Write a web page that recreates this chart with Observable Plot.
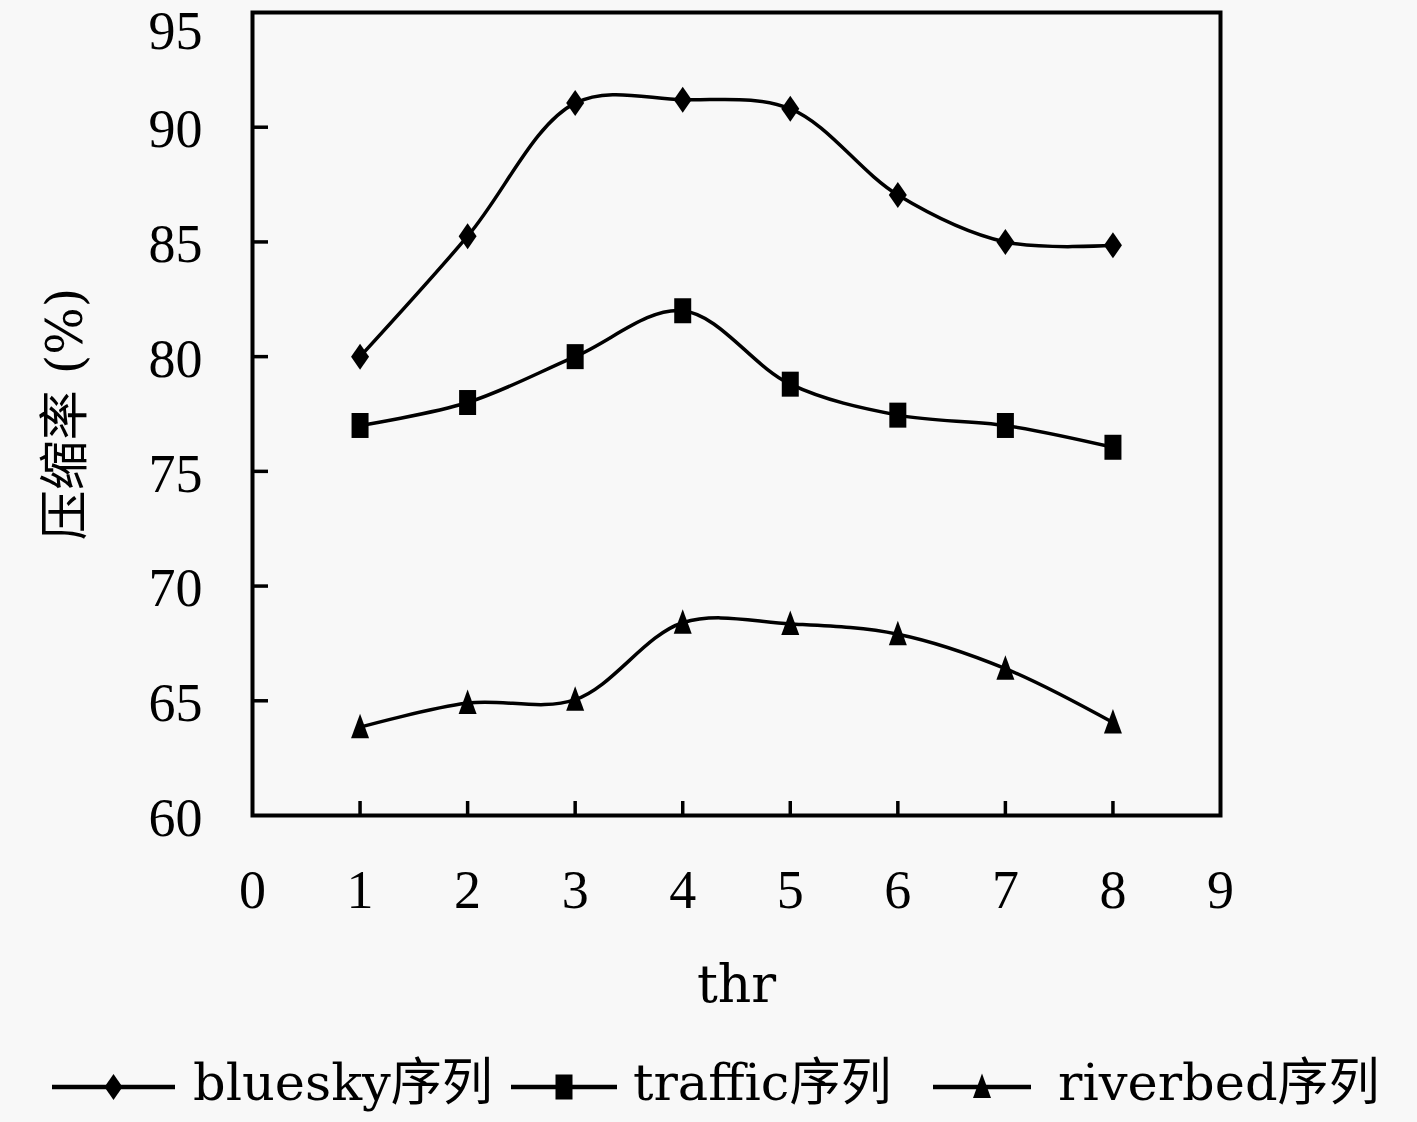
<!DOCTYPE html>
<html><head><meta charset="utf-8">
<script src="https://cdn.jsdelivr.net/npm/d3@7"></script>
<script src="https://cdn.jsdelivr.net/npm/@observablehq/plot@0.6"></script>
<style>
html,body{margin:0;padding:0;background:#f8f8f8;}
#legend{position:relative;width:1417px;height:92px;font-family:"DejaVu Serif","Noto Sans CJK SC",serif;font-size:51px;color:#000;}
#legend span{position:absolute;white-space:nowrap;line-height:1;}
#legend svg{position:absolute;overflow:visible;}
</style></head><body>
<div id="chart"></div>
<div id="legend"></div>
<script>
const thr = [1, 2, 3, 4, 5, 6, 7, 8];
const seriesNames = ["bluesky序列", "traffic序列", "riverbed序列"];
const bluesky = [80.0, 85.25, 91.05, 91.2, 90.8, 87.05, 85.0, 84.85];
const traffic = [77.0, 78.0, 80.0, 82.0, 78.8, 77.45, 77.0, 76.05];
const riverbed = [63.85, 64.9, 65.05, 68.4, 68.35, 67.9, 66.4, 64.05];
const xTicks = [0, 1, 2, 3, 4, 5, 6, 7, 8, 9];
const yTicks = [60, 65, 70, 75, 80, 85, 90];
const yTopTick = [95];
const xLabel = "thr";
const yLabel = "压缩率 (%)";

const diamondSym = {draw(c) { c.moveTo(0, -13); c.lineTo(9, 0); c.lineTo(0, 13); c.lineTo(-9, 0); c.closePath(); }};
const squareSym = {draw(c) { c.moveTo(-8.5, -12.5); c.lineTo(8.5, -12.5); c.lineTo(8.5, 12.5); c.lineTo(-8.5, 12.5); c.closePath(); }};
const triangleSym = {draw(c) { c.moveTo(0, -13.5); c.lineTo(9, 11); c.lineTo(-9, 11); c.closePath(); }};
const symbols = [diamondSym, squareSym, triangleSym];

const rows = [];
[bluesky, traffic, riverbed].forEach((vals, s) =>
  thr.forEach((t, i) => rows.push({series: seriesNames[s], thr: t, value: vals[i]})));

const textFont = '"DejaVu Serif", "Noto Sans CJK SC", serif';

const chart = Plot.plot({
  width: 1417, height: 1030,
  marginLeft: 252, marginRight: 197, marginTop: 12, marginBottom: 215,
  style: {background: "#f8f8f8", fontFamily: '"Liberation Serif", serif', fontSize: "54px", color: "black", overflow: "visible"},
  x: {domain: [0, 9]},
  y: {domain: [60, 95]},
  marks: [
    Plot.axisX(xTicks, {anchor: "bottom", tickSize: 0, tickPadding: 54, label: null}),
    Plot.axisX(xTicks.slice(1, -1), {anchor: "top", frameAnchor: "bottom", tickSize: 15, strokeWidth: 3.5, fill: "none", label: null}),
    Plot.axisY(yTicks, {anchor: "left", tickSize: 0, tickPadding: 50, dy: 3, label: null}),
    Plot.axisY(yTopTick, {anchor: "left", tickSize: 0, tickPadding: 50, dy: 19, label: null}),
    Plot.axisY(yTicks.slice(1), {anchor: "right", frameAnchor: "left", tickSize: 15, strokeWidth: 3.5, fill: "none", label: null}),
    Plot.frame({stroke: "black", strokeWidth: 4}),
    Plot.line(rows, {x: "thr", y: "value", z: "series", curve: "catmull-rom", stroke: "black", strokeWidth: 3.5}),
    ...seriesNames.map((name, s) => Plot.dot(rows.filter(d => d.series === name), {x: "thr", y: "value", symbol: symbols[s], fill: "black", stroke: "none"})),
    Plot.text([xLabel], {frameAnchor: "bottom", dy: 170, lineAnchor: "middle", textAnchor: "middle", fontFamily: textFont, fontSize: 52}),
    Plot.text([yLabel], {frameAnchor: "left", dx: -187, rotate: -90, textAnchor: "middle", lineAnchor: "middle", fontFamily: textFont, fontSize: 50})
  ]
});
document.getElementById("chart").appendChild(chart);

// Legend
const legend = d3.select("#legend");
const legendItems = [
  {x1: 52, x2: 175, tx: 193},
  {x1: 511, x2: 617, tx: 633},
  {x1: 933, x2: 1031, tx: 1058}
];
legendItems.forEach((it, s) => {
  const w = it.x2 - it.x1;
  const svg = legend.append("svg").attr("width", w).attr("height", 40)
    .style("left", it.x1 + "px").style("top", "37px");
  svg.append("line").attr("x1", 0).attr("x2", w).attr("y1", 20).attr("y2", 20)
    .attr("stroke", "black").attr("stroke-width", 4.5);
  const p = d3.path();
  symbols[s].draw(p, 0);
  svg.append("path").attr("d", p.toString()).attr("transform", `translate(${w / 2},20)`).attr("fill", "black");
  legend.append("span").style("left", it.tx + "px").style("top", "27px").text(seriesNames[s]);
});
</script>
</body></html>
